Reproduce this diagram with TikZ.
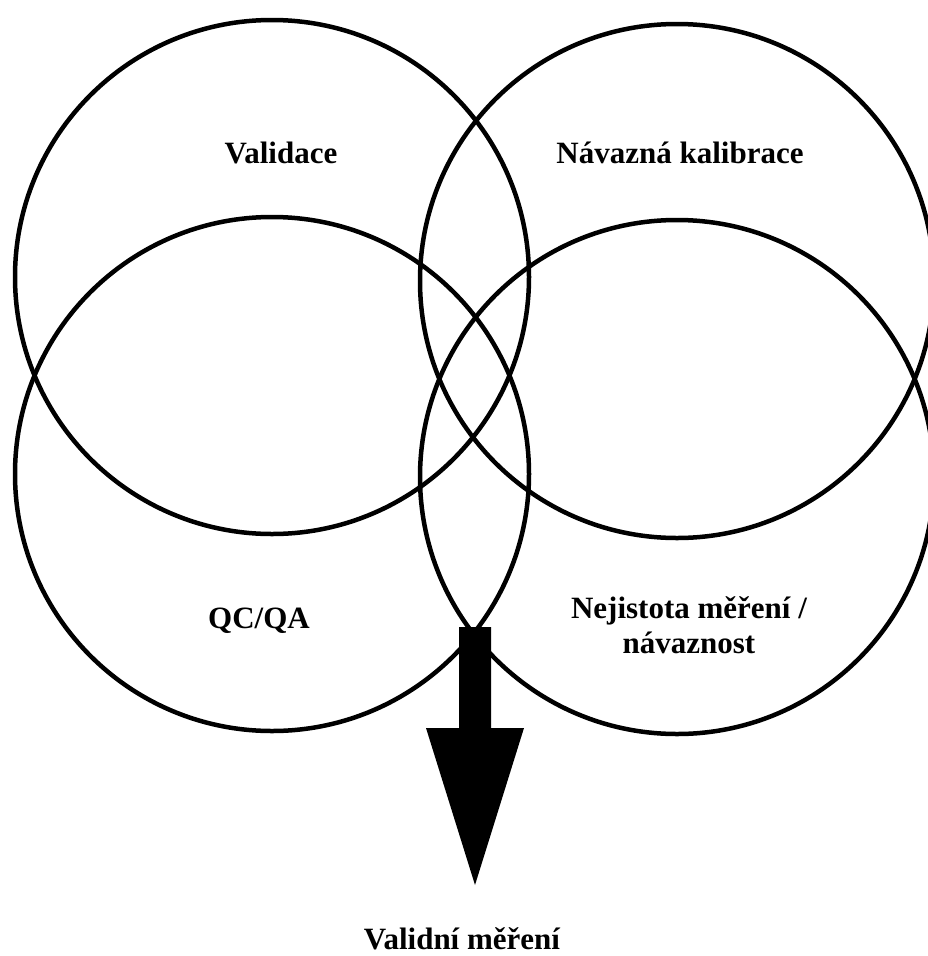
\documentclass[tikz,border=0pt]{standalone}
\usepackage{fontspec}
\setmainfont{Liberation Serif}
\usetikzlibrary{calc}
\begin{document}
\begin{tikzpicture}[x=1pt,y=-1pt,
  ring/.style={circle,draw=black,line width=4.5pt,inner sep=0pt,minimum size=514pt},
  lbl/.style={font=\fontsize{31}{35}\selectfont\bfseries,align=center,inner sep=0pt}]
\useasboundingbox (0,0) rectangle (928,956);
\node[ring] (val) at (272,277) {};
\node[ring] (kal) at (677,281) {};
\node[ring] (qc)  at (272,474) {};
\node[ring] (nej) at (677,477) {};
\node[lbl,anchor=base] (tval) at (281,163) {Validace};
\node[lbl,anchor=base] (tkal) at (680,163) {Návazná kalibrace};
\node[lbl,anchor=base] (tqc) at (259,628) {QC/QA};
\node[lbl,anchor=base] (tnej) at (689,653) {Nejistota měření /\\návaznost};
\node[lbl,anchor=base] (out) at (462,949) {Validní měření};
\coordinate (atop) at (475,627);
\coordinate (atip) at (475,885);
\fill[black] ($(atop)+(-16,0)$) -- ($(atop)+(16,0)$) -- (491,728) -- (524,728) -- (atip) -- (426,728) -- (459,728) -- cycle;
\end{tikzpicture}
\end{document}
